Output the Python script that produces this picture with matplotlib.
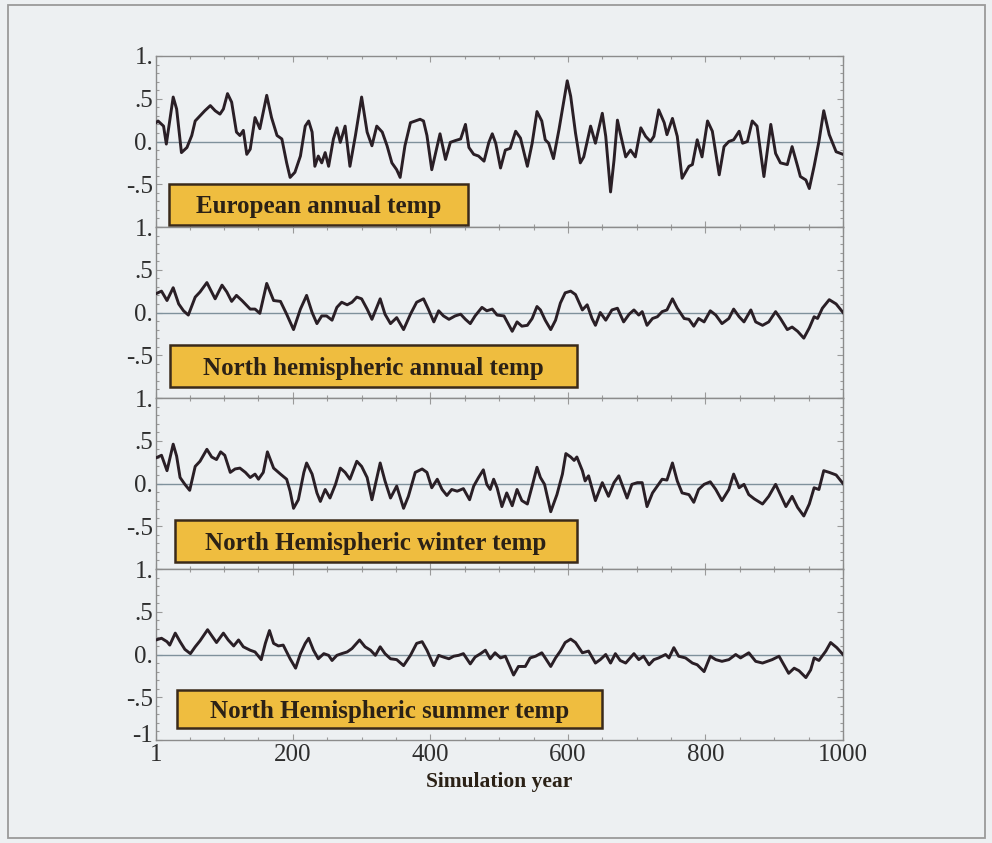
import matplotlib
matplotlib.use('Agg')
import matplotlib.pyplot as plt
from matplotlib.patches import Rectangle
from matplotlib.ticker import FixedLocator, FixedFormatter, MultipleLocator
from matplotlib.transforms import ScaledTranslation

plt.rcParams['font.family'] = ['Liberation Serif', 'DejaVu Serif']

# ---------------- data ----------------
series_titles = ["European annual temp",
                 "North hemispheric annual temp",
                 "North Hemispheric winter temp",
                 "North Hemispheric summer temp"]

years_eu = [1, 4, 12, 16, 26, 31, 38, 46, 53, 58,
            65, 72, 80, 87, 94, 99, 105, 111, 118, 123,
            128, 133, 138, 145, 152, 162, 169, 177, 184, 191,
            196, 203, 211, 218, 223, 228, 232, 237, 242, 247,
            252, 259, 264, 269, 276, 283, 291, 300, 308, 315,
            322, 330, 337, 344, 351, 356, 363, 371, 378, 385,
            390, 395, 402, 410, 414, 422, 429, 436, 444, 451,
            456, 463, 470, 478, 485, 490, 495, 502, 509, 516,
            524, 531, 541, 548, 555, 562, 567, 572, 579, 587,
            599, 604, 611, 618, 623, 633, 640, 650, 655, 662,
            667, 672, 676, 684, 691, 698, 706, 713, 720, 725,
            732, 740, 744, 752, 759, 766, 776, 781, 788, 795,
            803, 810, 820, 827, 834, 841, 849, 854, 861, 868,
            875, 885, 895, 902, 909, 919, 926, 934, 938, 946,
            951, 958, 965, 972, 980, 990, 1000]
temp_eu = [0.22, 0.24, 0.18, -0.03, 0.52, 0.38, -0.13, -0.07, 0.07, 0.24,
           0.30, 0.36, 0.42, 0.36, 0.32, 0.38, 0.56, 0.46, 0.11, 0.07,
           0.13, -0.15, -0.09, 0.28, 0.15, 0.54, 0.28, 0.07, 0.03, -0.25,
           -0.42, -0.36, -0.17, 0.18, 0.24, 0.11, -0.29, -0.17, -0.25, -0.13,
           -0.29, 0.03, 0.16, -0.01, 0.18, -0.29, 0.07, 0.52, 0.11, -0.05,
           0.18, 0.11, -0.05, -0.25, -0.33, -0.42, -0.05, 0.22, 0.24, 0.26,
           0.24, 0.07, -0.33, -0.05, 0.09, -0.21, -0.01, 0.01, 0.03, 0.20,
           -0.07, -0.15, -0.17, -0.23, -0.01, 0.09, -0.02, -0.31, -0.10, -0.08,
           0.12, 0.04, -0.29, -0.02, 0.35, 0.24, 0.02, -0.02, -0.20, 0.14,
           0.71, 0.53, 0.10, -0.25, -0.18, 0.18, -0.02, 0.33, 0.06, -0.59,
           -0.22, 0.25, 0.10, -0.18, -0.10, -0.18, 0.16, 0.06, 0.00, 0.06,
           0.37, 0.22, 0.08, 0.27, 0.06, -0.43, -0.29, -0.27, 0.02, -0.18,
           0.24, 0.12, -0.39, -0.06, 0.00, 0.02, 0.12, -0.02, 0.00, 0.24,
           0.18, -0.41, 0.20, -0.14, -0.25, -0.27, -0.06, -0.29, -0.41, -0.45,
           -0.55, -0.29, 0.00, 0.36, 0.08, -0.12, -0.15]

years_nh = [1, 9, 17, 26, 34, 41, 48, 58, 65, 75,
            80, 87, 97, 104, 111, 118, 126, 138, 145, 152,
            162, 172, 182, 191, 201, 211, 220, 228, 235, 242,
            249, 257, 264, 271, 279, 286, 293, 300, 308, 315,
            327, 334, 342, 351, 361, 371, 380, 390, 397, 405,
            412, 419, 427, 436, 444, 451, 458, 465, 475, 482,
            490, 497, 507, 519, 526, 533, 541, 548, 555, 560,
            567, 575, 582, 589, 596, 604, 611, 621, 628, 635,
            640, 647, 655, 664, 672, 681, 689, 696, 703, 708,
            715, 723, 730, 737, 744, 752, 759, 769, 776, 783,
            790, 798, 807, 815, 824, 834, 841, 849, 856, 866,
            873, 883, 892, 902, 909, 919, 926, 934, 943, 951,
            958, 963, 970, 980, 990, 1000]
temp_nh = [0.22, 0.25, 0.14, 0.29, 0.10, 0.02, -0.03, 0.18, 0.24, 0.35,
           0.27, 0.16, 0.32, 0.24, 0.13, 0.20, 0.14, 0.04, 0.04, -0.01,
           0.34, 0.14, 0.13, -0.02, -0.20, 0.04, 0.20, 0.00, -0.13, -0.04,
           -0.04, -0.09, 0.06, 0.12, 0.09, 0.12, 0.18, 0.16, 0.04, -0.08,
           0.16, -0.02, -0.13, -0.06, -0.20, -0.02, 0.12, 0.16, 0.04, -0.11,
           0.02, -0.04, -0.08, -0.04, -0.02, -0.08, -0.13, -0.04, 0.06, 0.02,
           0.04, -0.03, -0.04, -0.22, -0.11, -0.16, -0.15, -0.07, 0.07, 0.03,
           -0.09, -0.20, -0.09, 0.11, 0.23, 0.25, 0.21, 0.03, 0.09, -0.07,
           -0.15, 0.00, -0.09, 0.03, 0.05, -0.11, -0.02, 0.03, -0.03, 0.01,
           -0.15, -0.07, -0.05, 0.01, 0.03, 0.16, 0.05, -0.07, -0.08, -0.16,
           -0.07, -0.11, 0.02, -0.03, -0.13, -0.07, 0.04, -0.05, -0.11, 0.03,
           -0.11, -0.15, -0.11, 0.01, -0.07, -0.20, -0.17, -0.22, -0.30, -0.18,
           -0.05, -0.07, 0.05, 0.15, 0.10, 0.00]

years_win = [1, 9, 17, 26, 31, 36, 43, 50, 58, 65,
             75, 82, 89, 95, 101, 109, 116, 123, 131, 138,
             145, 150, 157, 163, 172, 182, 191, 196, 201, 208,
             216, 220, 228, 235, 240, 247, 254, 262, 269, 276,
             283, 293, 300, 308, 315, 327, 334, 342, 351, 361,
             368, 378, 388, 395, 402, 410, 417, 424, 431, 439,
             448, 457, 463, 470, 477, 482, 487, 492, 497, 504,
             511, 519, 526, 533, 541, 548, 555, 560, 566, 575,
             584, 592, 597, 604, 609, 613, 621, 625, 630, 640,
             650, 659, 667, 674, 686, 693, 701, 708, 715, 723,
             730, 737, 744, 752, 759, 766, 776, 783, 790, 798,
             807, 815, 824, 834, 841, 849, 856, 863, 871, 883,
             892, 902, 909, 917, 926, 934, 943, 951, 958, 965,
             972, 980, 990, 1000]
temp_win = [0.30, 0.33, 0.15, 0.46, 0.32, 0.07, -0.01, -0.08, 0.20, 0.26,
            0.40, 0.31, 0.28, 0.37, 0.33, 0.13, 0.17, 0.18, 0.13, 0.07,
            0.11, 0.05, 0.13, 0.37, 0.18, 0.11, 0.05, -0.09, -0.29, -0.19,
            0.13, 0.24, 0.11, -0.11, -0.21, -0.07, -0.17, -0.01, 0.18, 0.13,
            0.05, 0.26, 0.20, 0.07, -0.19, 0.24, 0.03, -0.17, -0.03, -0.29,
            -0.15, 0.13, 0.17, 0.13, -0.05, 0.05, -0.07, -0.14, -0.07, -0.09,
            -0.06, -0.19, -0.03, 0.07, 0.16, -0.01, -0.07, 0.05, -0.05, -0.27,
            -0.11, -0.26, -0.07, -0.20, -0.24, -0.03, 0.19, 0.07, -0.01, -0.33,
            -0.13, 0.11, 0.35, 0.31, 0.27, 0.31, 0.15, 0.03, 0.09, -0.20,
            0.01, -0.15, 0.01, 0.09, -0.17, -0.01, 0.01, 0.01, -0.27, -0.11,
            -0.03, 0.05, 0.04, 0.24, 0.03, -0.11, -0.13, -0.22, -0.07, -0.01,
            0.02, -0.07, -0.20, -0.07, 0.11, -0.05, -0.01, -0.13, -0.18, -0.24,
            -0.15, -0.01, -0.13, -0.27, -0.15, -0.28, -0.38, -0.24, -0.05, -0.07,
            0.15, 0.13, 0.10, 0.00]

years_sum = [1, 9, 17, 21, 29, 36, 43, 51, 58, 65,
             76, 82, 89, 99, 106, 114, 121, 128, 138, 145,
             154, 160, 166, 172, 179, 186, 196, 204, 211, 218,
             223, 230, 237, 245, 252, 257, 264, 271, 279, 286,
             297, 305, 313, 320, 327, 334, 342, 351, 361, 371,
             380, 388, 395, 405, 412, 419, 427, 434, 441, 448,
             458, 465, 473, 480, 487, 494, 502, 509, 521, 528,
             538, 545, 553, 562, 567, 575, 582, 589, 596, 604,
             611, 621, 630, 640, 647, 655, 662, 669, 676, 684,
             696, 703, 710, 718, 725, 732, 742, 747, 754, 761,
             771, 781, 788, 798, 807, 815, 824, 834, 844, 851,
             863, 873, 883, 897, 907, 914, 921, 929, 936, 946,
             953, 958, 965, 975, 982, 991, 1000]
temp_sum = [0.17, 0.19, 0.15, 0.11, 0.25, 0.15, 0.06, 0.01, 0.09, 0.16,
            0.29, 0.22, 0.14, 0.25, 0.17, 0.10, 0.17, 0.09, 0.05, 0.03,
            -0.06, 0.13, 0.28, 0.13, 0.10, 0.11, -0.05, -0.16, 0.01, 0.13,
            0.19, 0.05, -0.05, 0.01, -0.01, -0.07, -0.01, 0.01, 0.03, 0.07,
            0.17, 0.09, 0.05, -0.01, 0.09, 0.01, -0.05, -0.06, -0.13, -0.01,
            0.13, 0.15, 0.05, -0.13, -0.01, -0.03, -0.05, -0.02, -0.01, 0.01,
            -0.11, -0.03, 0.01, 0.05, -0.05, 0.02, -0.04, -0.02, -0.24, -0.14,
            -0.14, -0.04, -0.02, 0.02, -0.04, -0.14, -0.04, 0.04, 0.14, 0.18,
            0.14, 0.02, 0.04, -0.10, -0.06, 0.00, -0.10, 0.01, -0.07, -0.10,
            0.01, -0.06, -0.02, -0.12, -0.06, -0.04, 0.00, -0.04, 0.08, -0.02,
            -0.04, -0.10, -0.12, -0.20, -0.02, -0.06, -0.08, -0.06, 0.00, -0.04,
            0.02, -0.08, -0.10, -0.06, -0.02, -0.12, -0.22, -0.16, -0.19, -0.27,
            -0.18, -0.04, -0.07, 0.04, 0.14, 0.08, 0.00]

x_ticks = [1, 200, 400, 600, 800, 1000]
x_tick_labels = ["1", "200", "400", "600", "800", "1000"]
y_ticks = [-0.5, 0.0, 0.5, 1.0]
y_tick_labels = ["-.5", "0.", ".5", "1."]
y_ticks_last = [-1.0, -0.5, 0.0, 0.5, 1.0]
y_tick_labels_last = ["-1", "-.5", "0.", ".5", "1."]
x_label = "Simulation year"

all_years = [years_eu, years_nh, years_win, years_sum]
all_temps = [temp_eu, temp_nh, temp_win, temp_sum]

# ---------------- styling / layout ----------------
W, H = 992, 843
bg = '#edf0f2'
line_col = '#2a1f26'
zero_col = '#7f919c'
spine_col = '#8c8c8c'
box_fill = '#efbd3f'
box_edge = '#3a2a1a'
text_col = '#2b2116'

# label box extents in axes fractions (x0, x1, y0, y1)
box_ext = [(0.019, 0.454, 0.012, 0.252),
           (0.021, 0.613, 0.066, 0.310),
           (0.028, 0.613, 0.040, 0.287),
           (0.031, 0.649, 0.070, 0.292)]

fig = plt.figure(figsize=(W / 100, H / 100), dpi=100, facecolor=bg)

left_px, right_px, top_px, bot_px = 156, 843, 56, 740
panel_h = (bot_px - top_px) / 4

for i in range(4):
    top_i = top_px + panel_h * i
    ax = fig.add_axes([left_px / W, 1 - (top_i + panel_h) / H,
                       (right_px - left_px) / W, panel_h / H])
    ax.set_facecolor(bg)
    ax.plot(all_years[i], all_temps[i], color=line_col, lw=2.1,
            solid_joinstyle='round', zorder=3)
    ax.axhline(0, color=zero_col, lw=1.0, zorder=2)
    ax.set_xlim(1, 1000)
    ax.set_ylim(-1, 1)
    for s in ax.spines.values():
        s.set_color(spine_col)
        s.set_linewidth(1.0)
    ax.xaxis.set_major_locator(FixedLocator(x_ticks))
    ax.xaxis.set_minor_locator(MultipleLocator(50))
    if i < 3:
        ax.yaxis.set_major_locator(FixedLocator(y_ticks))
        ax.yaxis.set_major_formatter(FixedFormatter(y_tick_labels))
        ax.set_xticklabels([])
    else:
        ax.yaxis.set_major_locator(FixedLocator(y_ticks_last))
        ax.yaxis.set_major_formatter(FixedFormatter(y_tick_labels_last))
        ax.set_xticklabels(x_tick_labels)
        ax.set_xlabel(x_label, fontsize=15.5, fontweight='bold',
                      color=text_col, labelpad=4)
    ax.yaxis.set_minor_locator(MultipleLocator(0.1))
    ax.tick_params(which='both', direction='in', top=True, right=True,
                   color='#9a9a9a', width=0.8)
    ax.tick_params(which='major', length=4)
    ax.tick_params(which='minor', length=2.5)
    ax.tick_params(axis='y', labelsize=18, labelcolor='#2e2e2e', pad=2)
    ax.tick_params(axis='x', labelsize=18, labelcolor='#2e2e2e', pad=3)

    if i == 3:
        fig.canvas.draw()
        lab = ax.get_yticklabels()[0]
        lab.set_transform(lab.get_transform() +
                          ScaledTranslation(0, 7 / 100, fig.dpi_scale_trans))

    x0, x1, y0, y1 = box_ext[i]
    ax.add_patch(Rectangle((x0, y0), x1 - x0, y1 - y0, transform=ax.transAxes,
                           facecolor=box_fill, edgecolor=box_edge, lw=1.8,
                           zorder=5, clip_on=False))
    ax.text((x0 + x1) / 2, (y0 + y1) / 2, series_titles[i],
            transform=ax.transAxes, ha='center', va='center_baseline',
            fontsize=18, fontweight='bold', color=text_col, zorder=6)

# outer frame
fig.patches.append(Rectangle((8 / W, 5 / H), (985 - 8) / W, (838 - 5) / H,
                             transform=fig.transFigure, fill=False,
                             edgecolor='#9a9a9a', lw=1.3))

fig.savefig('out.png', dpi=100, facecolor=bg)
